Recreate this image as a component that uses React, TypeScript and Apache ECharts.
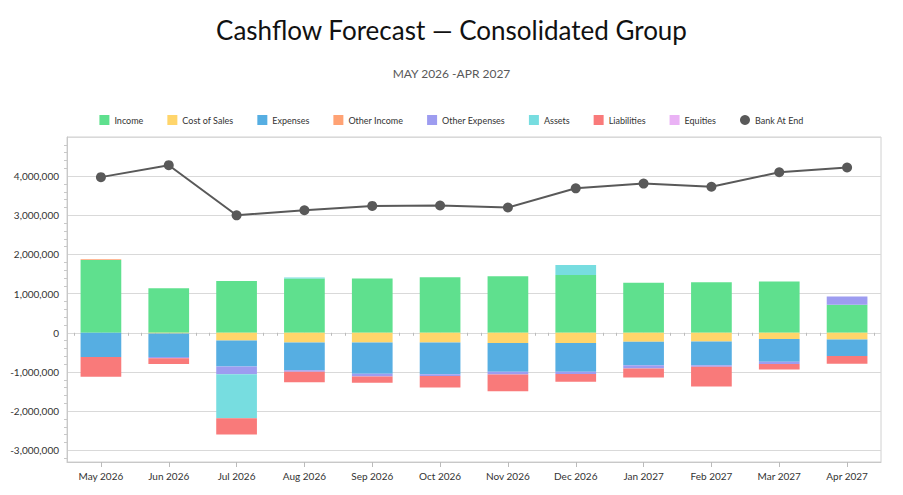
import React, { useEffect, useRef } from "react";
import * as echarts from "echarts";

const months = [
  "May 2026", "Jun 2026", "Jul 2026", "Aug 2026", "Sep 2026", "Oct 2026",
  "Nov 2026", "Dec 2026", "Jan 2027", "Feb 2027", "Mar 2027", "Apr 2027",
];

const income = [1860000, 1140000, 1325000, 1385000, 1385000, 1418000, 1444000, 1478000, 1275000, 1290000, 1310000, 715000];
const costOfSales = [0, -20000, -200000, -246000, -246000, -246000, -263000, -263000, -230000, -220000, -160000, -170000];
const expenses = [-620000, -600000, -660000, -710000, -800000, -810000, -730000, -730000, -600000, -610000, -580000, -420000];
const otherIncome = [20000, 0, 0, 0, 0, 0, 0, 0, 0, 0, 0, 0];
const otherExpenses = [0, -30000, -200000, -40000, -70000, -50000, -70000, -60000, -80000, -40000, -60000, 210000];
const assets = [0, 0, -1120000, 30000, 0, 0, 0, 255000, 0, 0, 0, 0];
const liabilities = [-500000, -150000, -420000, -270000, -160000, -290000, -430000, -200000, -230000, -500000, -140000, -200000];
const equities = [0, 0, 0, 0, 0, 0, 0, 0, 0, 0, 0, 0];
const bankAtEnd = [3975000, 4280000, 3000000, 3130000, 3240000, 3250000, 3200000, 3690000, 3810000, 3730000, 4100000, 4220000];

const barSeries = [
  { name: "Income", data: income, color: "#5fe08e" },
  { name: "Cost of Sales", data: costOfSales, color: "#ffd56b" },
  { name: "Expenses", data: expenses, color: "#56aee2" },
  { name: "Other Income", data: otherIncome, color: "#ffa274" },
  { name: "Other Expenses", data: otherExpenses, color: "#9d9cf0" },
  { name: "Assets", data: assets, color: "#77dde0" },
  { name: "Liabilities", data: liabilities, color: "#f97a7a" },
  { name: "Equities", data: equities, color: "#eab2f5" },
];

const FONT = "Lato, 'Open Sans', sans-serif";

export default function App() {
  const ref = useRef<HTMLDivElement>(null);

  useEffect(() => {
    if (!ref.current) return;
    const chart = echarts.init(ref.current, undefined, { renderer: "svg" });
    const minorCats = Array.from({ length: months.length * 5 }, () => "");

    chart.setOption({
      animation: false,
      backgroundColor: "#ffffff",
      textStyle: { fontFamily: FONT },
      title: [
        {
          text: "Cashflow Forecast — Consolidated Group",
          left: "center",
          top: 12,
          textStyle: { fontFamily: FONT, fontSize: 26, fontWeight: "normal", color: "#111" },
        },
        {
          text: "MAY 2026 -APR 2027",
          left: "center",
          top: 62,
          textStyle: { fontFamily: FONT, fontSize: 12, fontWeight: "normal", color: "#595959" },
        },
      ],
      legend: {
        top: 110,
        left: "center",
        itemWidth: 10,
        itemHeight: 10,
        itemGap: 24,
        textStyle: { fontFamily: FONT, fontSize: 9, color: "#333" },
        data: [
          ...barSeries.map((s) => ({ name: s.name, icon: "rect" })),
          { name: "Bank At End", icon: "circle" },
        ],
      },
      grid: {
        left: 67,
        right: 22,
        top: 137,
        bottom: 33,
        show: true,
        borderColor: "#d0d0d0",
        borderWidth: 1,
      },
      xAxis: [
        {
          type: "category",
          data: months,
          position: "bottom",
          axisLine: { show: true, onZero: false, lineStyle: { color: "#c8c8c8" } },
          axisTick: { show: true, alignWithLabel: true, length: 5, lineStyle: { color: "#bbb" } },
          axisLabel: { fontFamily: FONT, fontSize: 10, color: "#333", margin: 9 },
        },
        {
          type: "category",
          data: minorCats,
          position: "bottom",
          axisLine: { show: false },
          axisTick: { show: true, alignWithLabel: true, length: 3, interval: 0, lineStyle: { color: "#bbb" } },
          axisLabel: { show: false },
          splitLine: { show: false },
        },
      ],
      yAxis: {
        type: "value",
        min: -3300000,
        max: 5000000,
        splitNumber: 8,
        axisLine: { show: true, lineStyle: { color: "#c8c8c8" } },
        axisTick: { show: false },
        minorTick: { show: true, splitNumber: 5, length: 3, lineStyle: { color: "#c8c8c8" } },
        splitLine: { show: true, lineStyle: { color: "#d9d9d9" } },
        axisLabel: {
          fontFamily: FONT,
          fontSize: 10,
          color: "#333",
          showMinLabel: false,
          showMaxLabel: false,
          formatter: (v: number) => v.toLocaleString("en-US"),
        },
      },
      series: [
        ...barSeries.map((s) => ({
          name: s.name,
          type: "bar",
          stack: "total",
          barWidth: "60%",
          data: s.data,
          itemStyle: { color: s.color },
          emphasis: { disabled: true },
        })),
        {
          name: "Bank At End",
          type: "line",
          data: bankAtEnd,
          symbol: "circle",
          symbolSize: 10,
          itemStyle: { color: "#595959" },
          lineStyle: { color: "#595959", width: 2 },
          z: 5,
        },
      ],
    });

    return () => chart.dispose();
  }, []);

  return (
    <div
      ref={ref}
      style={{ position: "fixed", left: 0, top: 0, width: 903, height: 495 }}
    />
  );
}
